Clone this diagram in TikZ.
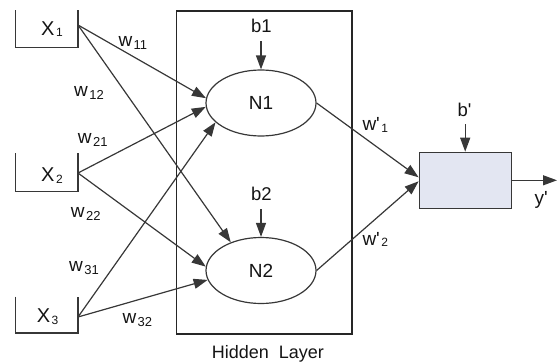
\documentclass[tikz,border=0pt]{standalone}
\usepackage{fontspec}
\setmainfont{Liberation Sans}[Ligatures=TeXOff]
\usetikzlibrary{arrows.meta,shapes.geometric}
\definecolor{ln}{RGB}{55,55,55}
\definecolor{txt}{RGB}{20,20,20}
\definecolor{boxfill}{RGB}{227,230,242}
\newcommand{\mylbl}[5]{{\fontsize{#1pt}{#1pt}\selectfont #2}\hspace{1.5pt}\raisebox{-#5pt}{\fontsize{#3pt}{#3pt}\selectfont #4}}
\begin{document}
\begin{tikzpicture}[x=1pt,y=-1pt,
  lbl/.style={inner sep=0pt, anchor=base west, text=txt},
  arr/.style={draw=ln, line width=1.2pt, -{Triangle[length=14pt,width=10pt]}},
  wire/.style={draw=ln, line width=1.2pt},
  neuron/.style={ellipse, draw=ln, line width=1.2pt, minimum width=110pt, minimum height=66pt, inner sep=0pt, text=txt, font=\fontsize{19pt}{19pt}\selectfont},
  outbox/.style={draw=ln, fill=boxfill, line width=1.2pt, minimum width=92pt, minimum height=56pt, inner sep=0pt}]
\useasboundingbox (0,0) rectangle (557,364);
% input boxes
\draw[wire] (15.7,10) -- (15.7,47.7) -- (78,47.7) -- (78,10);
\draw[wire] (15.7,153) -- (15.7,191.7) -- (78,191.7) -- (78,153);
\draw[wire] (15.7,296.7) -- (15.7,333) -- (78,333) -- (78,296.7);
\node[lbl] (X1) at (41,35) {\mylbl{20}{X}{12}{1}{1.7}};
\node[lbl] (X2) at (41,181.7) {\mylbl{20}{X}{12}{2}{1.7}};
\node[lbl] (X3) at (36.7,322.7) {\mylbl{20}{X}{12}{3}{1.7}};
\coordinate (x1o) at (78,25);
\coordinate (x2o) at (78,173);
\coordinate (x3o) at (78,317);
% hidden layer
\draw[line width=1.2pt, draw=black!85] (176.7,11) rectangle (352,334);
\node[lbl] (hl) at (211.7,358.3) {\fontsize{18pt}{18pt}\selectfont Hidden\ \ Layer};
\node[neuron] (N1) at (261,103) {N1};
\node[neuron] (N2) at (261,270.5) {N2};
% biases
\node[lbl] (b1) at (251,32.3) {\fontsize{18.5pt}{18.5pt}\selectfont b1};
\coordinate (b1s) at (261,41);
\draw[arr] (b1s) -- (N1.north);
\node[lbl] (b2) at (251,200) {\fontsize{18.5pt}{18.5pt}\selectfont b2};
\coordinate (b2s) at (261,209);
\draw[arr] (b2s) -- (N2.north);
% input connections
\draw[arr] (x1o) -- (N1.175);
\draw[arr] (x2o) -- (N1.184);
\draw[arr] (x3o) -- (N1.203);
\draw[arr] (x1o) -- (N2.137);
\draw[arr] (x2o) -- (N2.176);
\draw[arr] (x3o) -- (N2.190);
% weight labels
\node[lbl] (w11) at (118.3,46.7) {\mylbl{19}{w}{13}{11}{2.7}};
\node[lbl] (w12) at (74,96.7) {\mylbl{19}{w}{13}{12}{2.7}};
\node[lbl] (w21) at (77.7,143.3) {\mylbl{19}{w}{13}{21}{2.7}};
\node[lbl] (w22) at (70.7,217.3) {\mylbl{19}{w}{13}{22}{2.7}};
\node[lbl] (w31) at (69,271.7) {\mylbl{19}{w}{13}{31}{2.7}};
\node[lbl] (w32) at (122.3,323.3) {\mylbl{19}{w}{13}{32}{2.7}};
% output
\node[outbox] (out) at (465.2,180.3) {};
\draw[arr] (N1.east) -- ([yshift=3pt]out.west);
\draw[arr] (N2.east) -- ([yshift=-1pt]out.west);
\node[lbl] (wp1) at (362.3,130.7) {\mylbl{19}{w'}{12}{1}{1.5}};
\node[lbl] (wp2) at (362.3,245) {\mylbl{19}{w'}{12}{2}{1.5}};
\node[lbl] (bp) at (457.3,116.7) {\fontsize{18.5pt}{18.5pt}\selectfont b'};
\coordinate (bps) at (465.2,124);
\draw[arr] (bps) -- (out.north);
\coordinate (yend) at (557,180.3);
\draw[arr] (out.east) -- (yend);
\node[lbl] (yp) at (534.3,204.3) {\fontsize{19pt}{19pt}\selectfont y'};
\end{tikzpicture}
\end{document}
